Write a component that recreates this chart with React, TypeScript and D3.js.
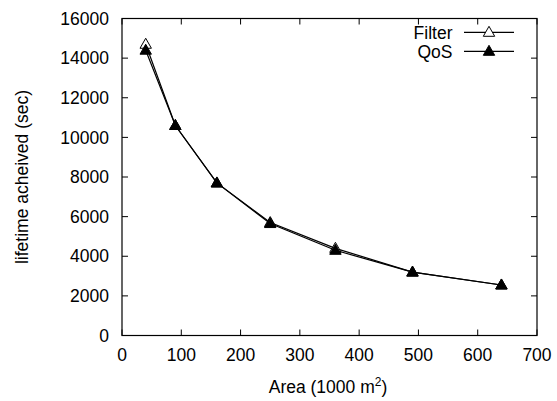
import React from "react";
import * as d3 from "d3";

const areas = [40, 90, 160, 250, 360, 490, 640];
const filterValues = [14700, 10600, 7700, 5700, 4400, 3200, 2550];
const qosValues = [14400, 10600, 7700, 5650, 4300, 3200, 2550];
const xTicks = [0, 100, 200, 300, 400, 500, 600, 700];
const yTicks = [0, 2000, 4000, 6000, 8000, 10000, 12000, 14000, 16000];
const seriesNames = ["Filter", "QoS"];

const W = 557;
const H = 401;
const left = 122;
const right = 537;
const top = 18.5;
const bottom = 335.5;
const FONT = "Liberation Sans, Arial, sans-serif";
const FS = 17.5;

function tri(cx: number, cy: number) {
  const w = 5.7;
  return `M${cx},${cy - 6}L${cx + w},${cy + 4}L${cx - w},${cy + 4}Z`;
}

export default function App() {
  const x = d3.scaleLinear().domain([0, 700]).range([left, right]);
  const y = d3.scaleLinear().domain([0, 16000]).range([bottom, top]);
  const line = d3
    .line<[number, number]>()
    .x((d) => x(d[0]))
    .y((d) => y(d[1]));
  const series = [
    { name: seriesNames[0], values: filterValues, filled: false },
    { name: seriesNames[1], values: qosValues, filled: true },
  ];
  const tl = 6;
  return (
    <svg
      width={W}
      height={H}
      style={{ position: "absolute", left: 0, top: 0, background: "#fff" }}
      fontFamily={FONT}
    >
      <rect x={0} y={0} width={W} height={H} fill="#fff" />
      {xTicks.map((t) => (
        <g key={"x" + t}>
          <line x1={x(t)} x2={x(t)} y1={bottom} y2={bottom - tl} stroke="#000" />
          <line x1={x(t)} x2={x(t)} y1={top} y2={top + tl} stroke="#000" />
          <text x={x(t)} y={361} textAnchor="middle" fontSize={FS} fill="#000">
            {t}
          </text>
        </g>
      ))}
      {yTicks.map((t) => (
        <g key={"y" + t}>
          <line x1={left} x2={left + tl} y1={y(t)} y2={y(t)} stroke="#000" />
          <line x1={right} x2={right - tl} y1={y(t)} y2={y(t)} stroke="#000" />
          <text
            x={109}
            y={y(t) + 6.2}
            textAnchor="end"
            fontSize={FS}
            fill="#000"
          >
            {t}
          </text>
        </g>
      ))}
      <rect
        x={left}
        y={top}
        width={right - left}
        height={bottom - top}
        fill="none"
        stroke="#000"
        strokeWidth={1.2}
      />
      {series.map((s) => (
        <g key={s.name}>
          <path
            d={line(areas.map((a, i) => [a, s.values[i]] as [number, number])) || ""}
            fill="none"
            stroke="#000"
            strokeWidth={1.2}
          />
          {areas.map((a, i) => (
            <path
              key={i}
              d={tri(x(a), y(s.values[i]))}
              fill={s.filled ? "#000" : "#fff"}
              stroke="#000"
              strokeWidth={1}
            />
          ))}
        </g>
      ))}
      {series.map((s, i) => {
        const ly = 32.3 + i * 19;
        return (
          <g key={"leg" + s.name}>
            <text x={452.5} y={ly + 6.5} textAnchor="end" fontSize={FS} fill="#000">
              {s.name}
            </text>
            <line x1={464} x2={514} y1={ly} y2={ly} stroke="#000" strokeWidth={1.2} />
            <path
              d={tri(489, ly)}
              fill={s.filled ? "#000" : "#fff"}
              stroke="#000"
              strokeWidth={1}
            />
          </g>
        );
      })}
      <text
        transform={`translate(28,${(top + bottom) / 2}) rotate(-90)`}
        textAnchor="middle"
        fontSize={FS}
        fill="#000"
      >
        lifetime acheived (sec)
      </text>
      <text x={328} y={393} textAnchor="middle" fontSize={FS} fill="#000">
        Area (1000 m
        <tspan dy={-7} fontSize={12}>
          2
        </tspan>
        <tspan dy={7}>)</tspan>
      </text>
    </svg>
  );
}
